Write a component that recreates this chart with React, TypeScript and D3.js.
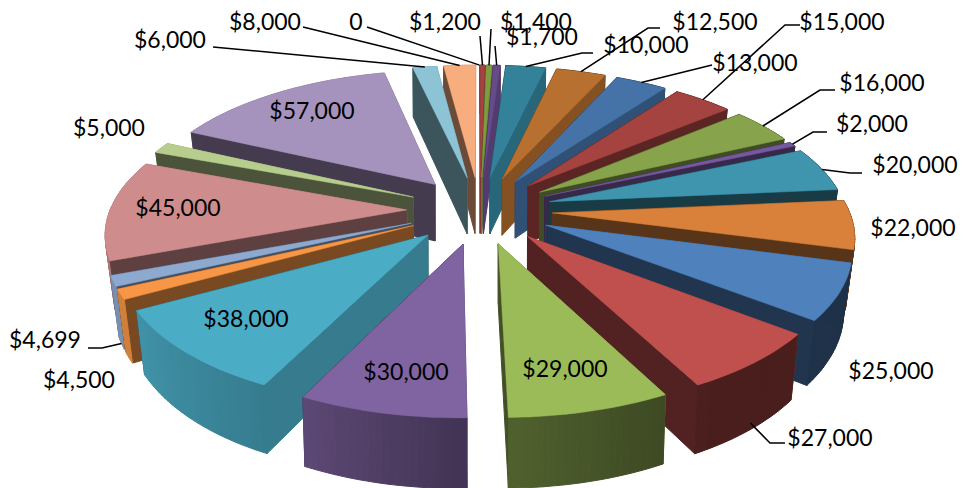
import React from "react";
import * as d3 from "d3";

const categories = ["0","$1,200","$1,400","$1,700","$10,000","$12,500","$13,000","$15,000","$16,000","$2,000","$20,000","$22,000","$25,000","$27,000","$29,000","$30,000","$38,000","$4,500","$4,699","$45,000","$5,000","$57,000","$6,000","$8,000"];
const values = [0,1200,1400,1700,10000,12500,13000,15000,16000,2000,20000,22000,25000,27000,29000,30000,38000,4500,4699,45000,5000,57000,6000,8000];
const colors = ["#4f81bd","#a54340","#7f9c3f","#664a8a","#33829a","#b87030","#4573a8","#a54340","#87a44c","#75589e","#3f94ae","#d9803a","#4f81bd","#c0504d","#9bbb59","#8064a2","#4bacc6","#f79646","#8ea9d0","#ce8d8c","#b7cd8d","#a593bd","#8cc3d5","#f8ad7f"];
// label centres (x, baseline y), in the same order as categories
const labelX = [356,445,536,542,646,715,755,842,882,872,915,913,891,830,565,406,246,79,45,178,109,312,170,265];
const labelY = [30,30,30,45,53,30,71,30,91,132,173,236,379,446,377,380,327,388,348,216,136,119,48,30];
// label-side leader points: [x0,y0,x1,y1] or null when a label has no leader
const leaders: (number[] | null)[] = [
  [367,27,367,27],[480,36,480,36],[491,29,491,29],[495,46,495,46],[593,53,582,53],[660,28,648,28],[712,65,712,65],[800,25,785,25],[835,90,820,90],[827,132,813,132],[862,173,850,173],
  null,null,[785,443,770,443],null,null,null,null,[88,348,102,348],null,null,null,[213,47,213,47],[303,27,303,27],
];
// how far down the wall (0 = rim, 1 = base) each leader lands
const leaderDrop = [0,0,0,0,0,0,0,0,0,0,0,0,0,0.9,0,0,0,0,1,0,0,0,0,0];

const W = 965, H = 488;
const cx = 479.5, cy = 210, Rx = 299.6, Ry = 138.8, persp = 0.147, explode = 0.243, radius = 0.99, depth = 58, lean = 0.023;

const s = (y: number) => 1 / (1 + persp * y);
const project = (x: number, y: number, z = 0): [number, number] => [
  cx + Rx * x * s(y) * (1 - lean * z * Math.min(1, Math.abs(x))),
  cy - Ry * y * s(y) + depth * z * s(y),
];
const poly = (pts: [number, number][]) => "M" + pts.map((p) => `${p[0].toFixed(1)},${p[1].toFixed(1)}`).join("L") + "Z";

const radialShade = d3.scaleLinear().domain([100, 115, 126, 140, 155, 175, 260]).range([0.8, 0.72, 0.7, 0.55, 0.47, 0.4, 0.43]).clamp(true);
const outerShade = d3.scaleLinear().domain([150, 180, 206, 240]).range([0.38, 0.52, 0.72, 0.85]).clamp(true);
const shade = (c: string, k: number) => {
  const r = d3.rgb(c);
  return d3.rgb(r.r * k, r.g * k, r.b * k).formatHex();
};

const deg = (a: number) => ((a * 180) / Math.PI + 360) % 360;

const arcs = d3.pie<number>().sort(null).startAngle(0).endAngle(2 * Math.PI)(values);

type Face = { d: string; fill: string; y: number };

const slices = arcs.map((a, i) => {
  const mid = (a.startAngle + a.endAngle) / 2;
  const ox = explode * Math.sin(mid), oy = explode * Math.cos(mid);
  const pt = (t: number, r = radius): [number, number] => [ox + r * Math.sin(t), oy + r * Math.cos(t)];
  const c = colors[i];
  const apex = pt(0, 0);
  const n = Math.max(2, Math.ceil((a.endAngle - a.startAngle) / 0.02));
  const ts = d3.range(n + 1).map((k) => a.startAngle + ((a.endAngle - a.startAngle) * k) / n);
  const faces: Face[] = [];
  const radial = (t: number, normal: number) => {
    const e = pt(t);
    faces.push({
      d: poly([project(apex[0], apex[1]), project(e[0], e[1]), project(e[0], e[1], 1), project(apex[0], apex[1], 1)]),
      fill: shade(c, radialShade(normal)),
      y: (apex[1] + e[1]) / 2,
    });
  };
  radial(a.startAngle, deg(a.startAngle - Math.PI / 2));
  radial(a.endAngle, deg(a.endAngle + Math.PI / 2));
  const outerY = pt(mid)[1];
  for (let k = 0; k < n; k++) {
    const p = pt(ts[k]), q = pt(ts[k + 1]);
    faces.push({
      d: poly([project(p[0], p[1]), project(q[0], q[1]), project(q[0], q[1], 1), project(p[0], p[1], 1)]),
      fill: shade(c, outerShade(deg((ts[k] + ts[k + 1]) / 2))),
      y: outerY,
    });
  }
  faces.sort((f, g) => g.y - f.y);
  const top = poly([project(apex[0], apex[1]), ...ts.map((t) => { const p = pt(t); return project(p[0], p[1]); })]);
  const m = pt(mid);
  const rim = project(m[0], m[1], leaderDrop[i]);
  return { i, c, faces, top, rim, order: Math.cos(mid), empty: a.endAngle - a.startAngle < 1e-6 };
});

const drawOrder = d3.sort(slices, (a, b) => b.order - a.order);

export default function App() {
  return (
    <svg width={W} height={H} style={{ position: "absolute", left: 0, top: 0, display: "block" }}>
      <rect width={W} height={H} fill="#fff" />
      {drawOrder.filter((sl) => !sl.empty).map((sl) => (
        <g key={sl.i}>
          {sl.faces.map((f, j) => (
            <path key={j} d={f.d} fill={f.fill} stroke={f.fill} strokeWidth={1} strokeLinejoin="round" />
          ))}
          <path d={sl.top} fill={sl.c} stroke={sl.c} strokeWidth={0.5} />
        </g>
      ))}
      {slices.map((sl) => {
        const l = leaders[sl.i];
        if (!l) return null;
        return (
          <polyline key={sl.i} points={`${l[0]},${l[1]} ${l[2]},${l[3]} ${sl.rim[0].toFixed(1)},${sl.rim[1].toFixed(1)}`} fill="none" stroke="#000" strokeWidth={1.5} />
        );
      })}
      {categories.map((t, i) => (
        <text key={i} x={labelX[i]} y={labelY[i]} textAnchor="middle" fontFamily="Lato, 'Open Sans', sans-serif" fontSize={23} fill="#000">
          {t}
        </text>
      ))}
    </svg>
  );
}
